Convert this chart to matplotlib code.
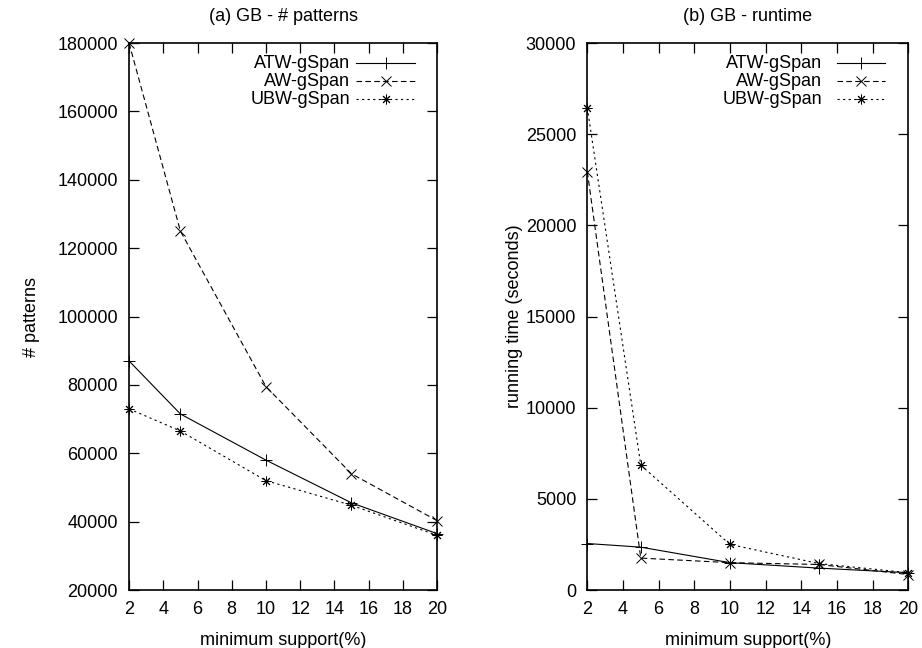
import matplotlib
matplotlib.use("Agg")
from matplotlib import pyplot as plt
from matplotlib.lines import Line2D

plt.rcParams['font.family'] = ['Liberation Sans', 'DejaVu Sans']
plt.rcParams['font.size'] = 13

# minimum support (%)
support = [2, 5, 10, 15, 20]

# (a) number of patterns
pat_atw = [87000, 71500, 58000, 45500, 36500]
pat_aw = [180000, 125000, 79500, 54000, 40300]
pat_ubw = [73000, 66500, 52000, 44800, 36000]

# (b) running time (seconds)
rt_atw = [2550, 2350, 1500, 1200, 950]
rt_aw = [22950, 1750, 1500, 1400, 850]
rt_ubw = [26450, 6850, 2500, 1450, 950]

names = ["ATW-gSpan", "AW-gSpan", "UBW-gSpan"]
styles = [
    dict(linestyle="-", marker="+", markersize=8),
    dict(linestyle=(0, (5, 3)), marker="x", markersize=6.5),
    dict(linestyle=(0, (2, 3)), marker=(8, 2, 0), markersize=7),
]

fig = plt.figure(figsize=(9.22, 6.48), dpi=100)
ax1 = fig.add_axes([0.140, 0.0895, 0.334, 0.844])
ax2 = fig.add_axes([0.637, 0.0895, 0.348, 0.844])


def draw(ax, series, ylim, yticks, ylabel, ylab_x, title, txt_x, line_x):
    for vals, st in zip(series, styles):
        ax.plot(support, vals, color="black", linewidth=0.8,
                markeredgewidth=0.7, clip_on=False, **st)
    ax.set_xlim(2, 20)
    ax.set_xticks(range(2, 21, 2))
    ax.set_ylim(*ylim)
    ax.set_yticks(yticks)
    ax.tick_params(direction="in", length=7, width=0.9, top=True, right=True,
                   pad=8, labelsize=13)
    for sp in ax.spines.values():
        sp.set_linewidth(1.2)
    ax.set_xlabel("minimum support(%)")
    ax.xaxis.set_label_coords(0.5, -0.077)
    ax.set_ylabel(ylabel)
    ax.yaxis.set_label_coords(ylab_x, 0.5)
    ax.set_title(title, pad=16, fontsize=13)
    # gnuplot-style key: right-aligned text, sample to the right
    for i, (name, st) in enumerate(zip(names, styles)):
        y = 0.963 - i * 0.033
        ax.text(txt_x, y, name, transform=ax.transAxes, ha="right",
                va="center", fontsize=13)
        ax.add_line(Line2D(line_x, [y, y], transform=ax.transAxes,
                           color="black", linewidth=0.8,
                           linestyle=st["linestyle"]))
        ax.add_line(Line2D([sum(line_x) / 2], [y], transform=ax.transAxes,
                           color="black", marker=st["marker"],
                           markersize=st["markersize"],
                           markeredgewidth=0.7, linestyle="none"))


draw(ax1, [pat_atw, pat_aw, pat_ubw], (20000, 180000),
     range(20000, 180001, 20000), "# patterns", -0.29,
     "(a) GB - # patterns", 0.718, [0.737, 0.929])
draw(ax2, [rt_atw, rt_aw, rt_ubw], (0, 30000),
     range(0, 30001, 5000), "running time (seconds)", -0.2,
     "(b) GB - runtime", 0.732, [0.779, 0.928])

fig.savefig("out.png", dpi=100)
